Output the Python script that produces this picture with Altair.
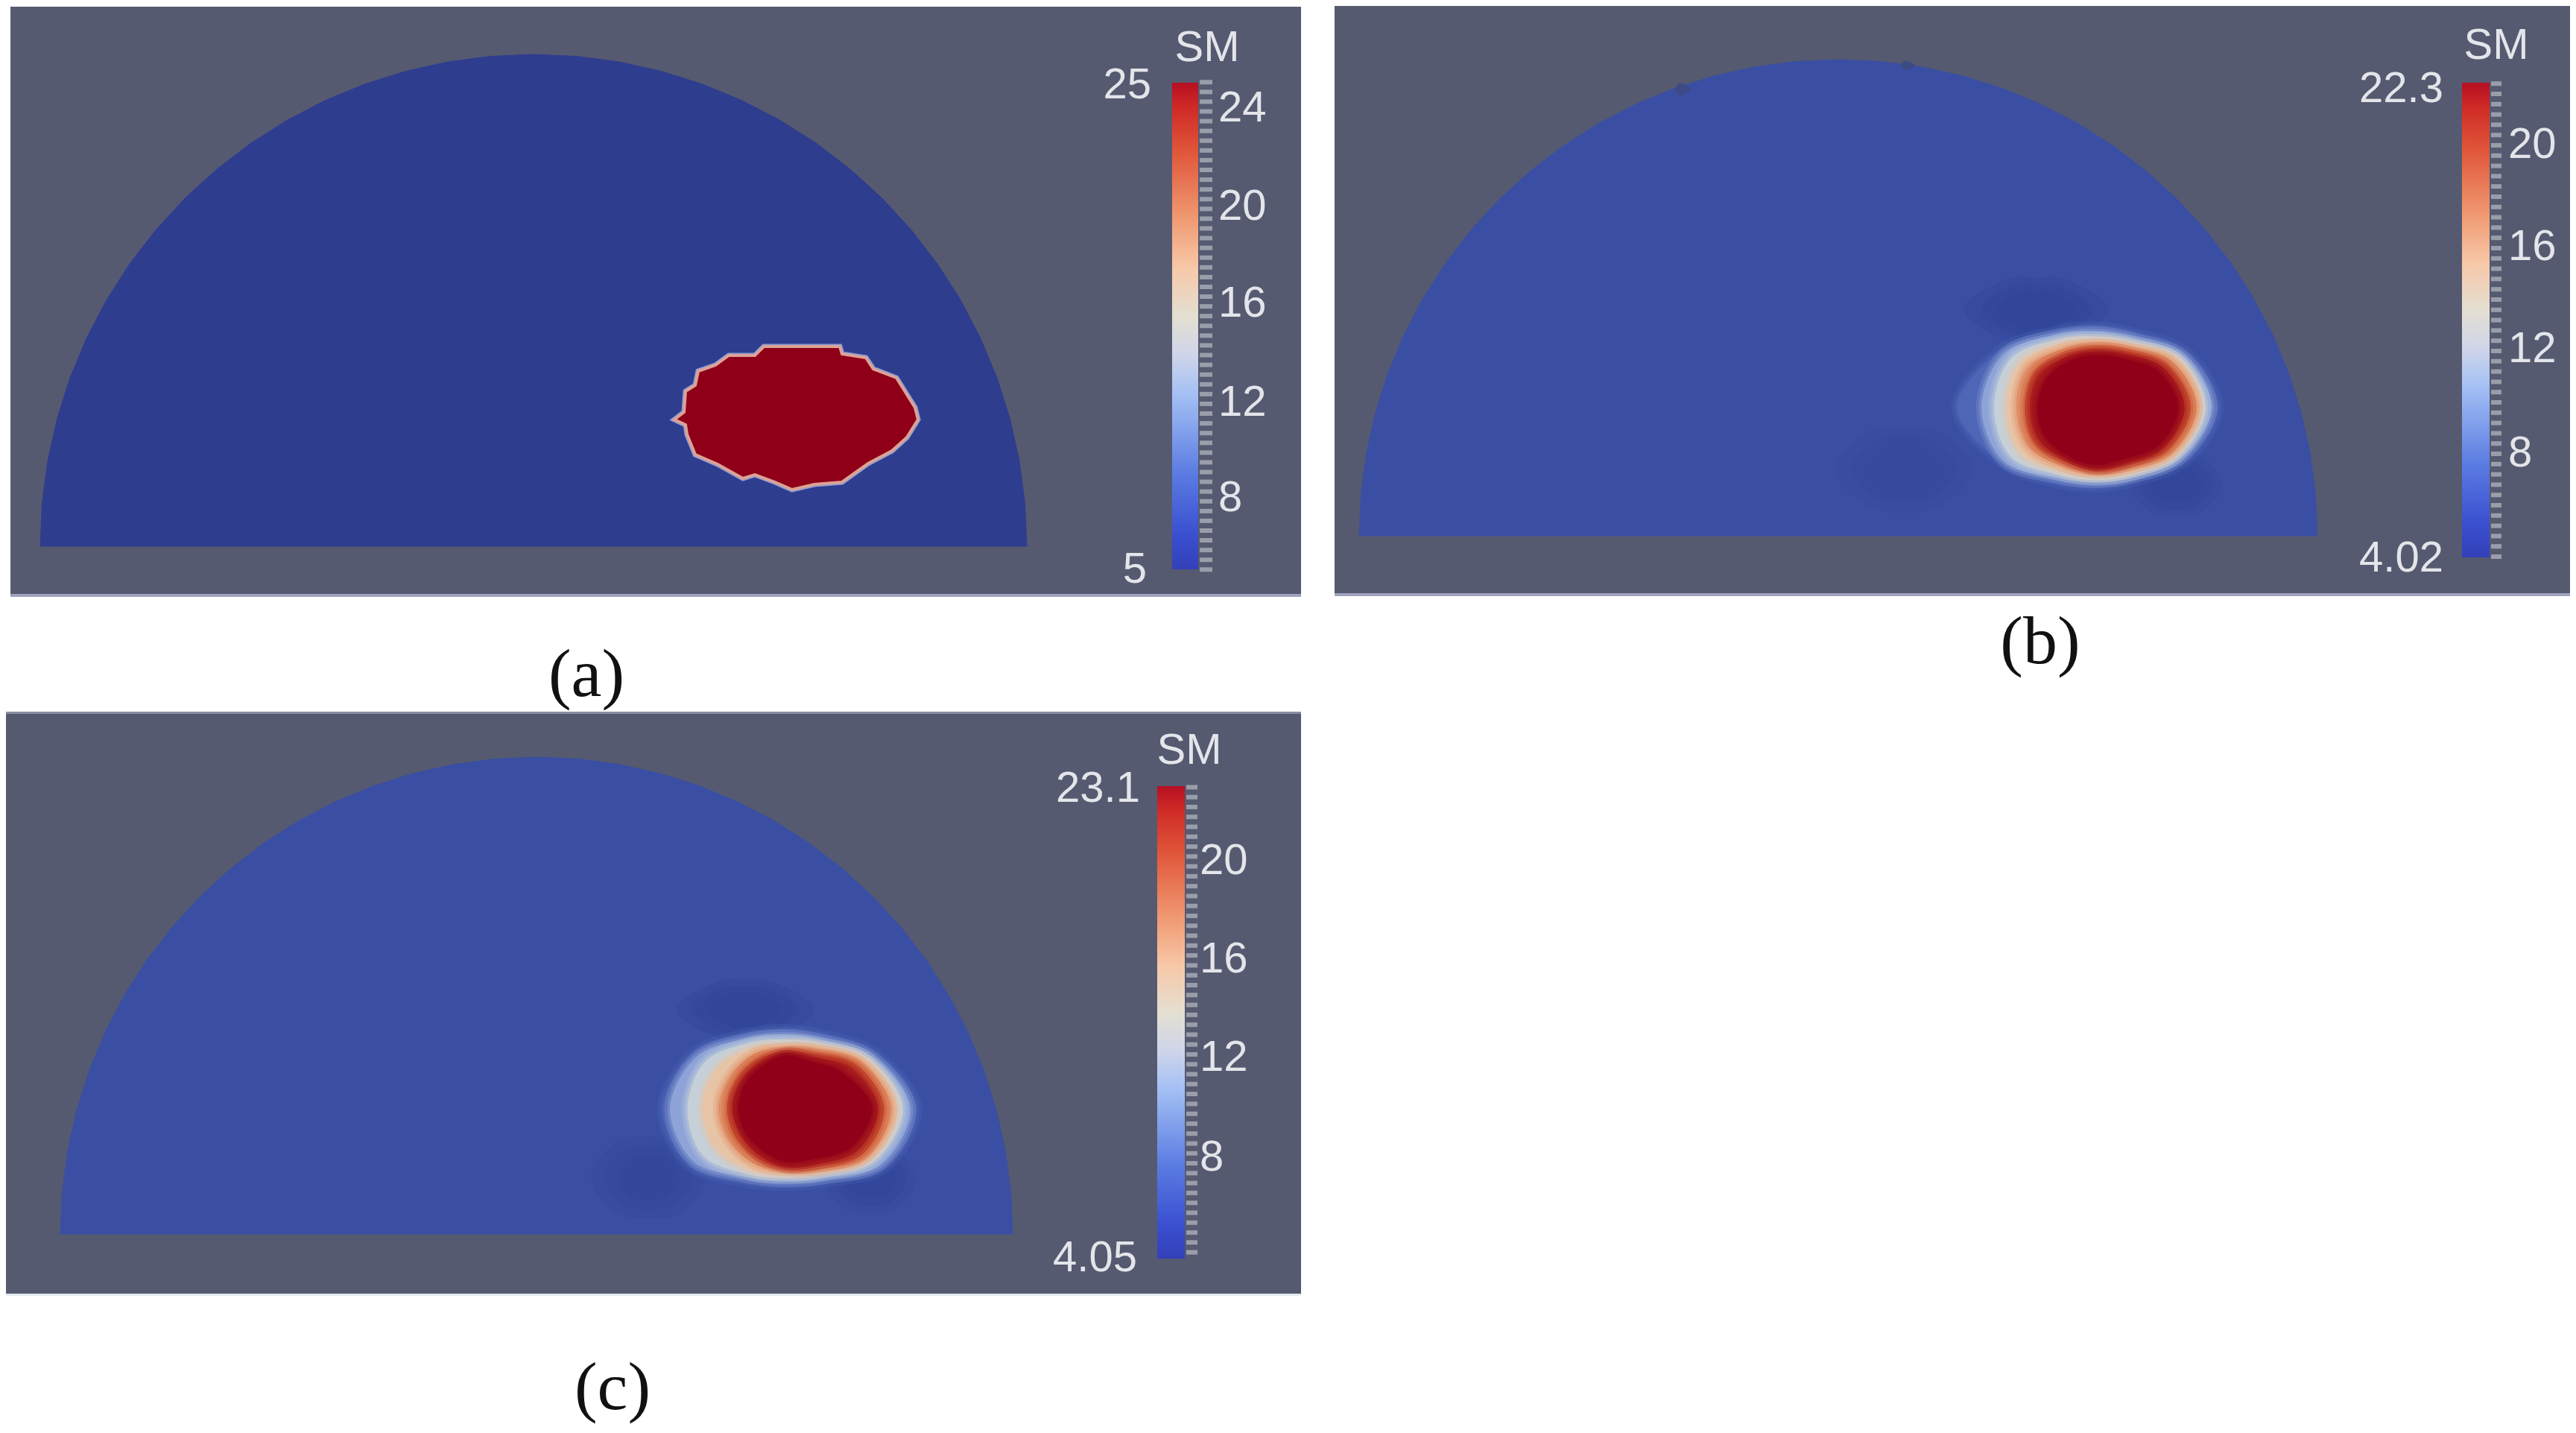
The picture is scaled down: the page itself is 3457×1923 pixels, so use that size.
import math
import altair as alt
import pandas as pd

# ---- canvas, in the reference's own pixel units
XDOM = [8, 3449]
YDOM = [1915, 8]
W, H = XDOM[1] - XDOM[0], YDOM[0] - YDOM[1]
xs = alt.Scale(domain=XDOM, nice=False, zero=False)
ys = alt.Scale(domain=YDOM, nice=False, zero=False)
X = alt.X("x:Q", scale=xs, axis=None)
Y = alt.Y("y:Q", scale=ys, axis=None)
X2 = alt.X2("x2:Q")
Y2 = alt.Y2("y2:Q")

# ---- background panels and edge strips
rect_x = [14, 14, 1791, 1791, 8, 8, 8]
rect_x2 = [1746, 1746, 3449, 3449, 1746, 1746, 1746]
rect_y = [9, 797, 8, 796, 958, 955, 1736]
rect_y2 = [797, 801, 796, 800, 1736, 958, 1739]
rect_col = ["#565a70", "#9ea2bf", "#565a70", "#9ea2bf", "#565a70", "#8a8ea2", "#e6ebf0"]

# ---- half-disc domains
dome_x = [716, 2467, 720]
dome_y = [733, 719, 1656]
dome_rx = [662, 643, 639]
dome_ry = [660, 639, 640]
dome_col = ["#2f3d8f", "#3a4fa3", "#3a4fa3"]
dome_angles = list(range(180, 361, 5))

# ---- sharp blob of panel (a)
blob_a_x = [905, 918, 920, 933, 937, 960, 978, 1013, 1025, 1127, 1130, 1162, 1172, 1203, 1228, 1232,
            1217, 1197, 1165, 1130, 1093, 1063, 1040, 1013, 997, 963, 933, 922, 920]
blob_a_y = [563, 553, 525, 517, 498, 490, 477, 477, 465, 465, 475, 480, 495, 507, 547, 563,
            587, 605, 622, 647, 650, 657, 647, 637, 642, 623, 610, 583, 570]

# ---- contour bands of (b) and (c): radius (at 0,30,...,330 degrees) of each level
level_col = ["#4f66b6", "#8ea4d8", "#c6d0d8", "#e8c4a6", "#e08e66", "#c9512f", "#a81c1e", "#900018"]
b_center = (2813, 547)
b_r = [
    [490, 420, 335, 320, 345, 440, 560, 450, 350, 325, 340, 430],
    [465, 400, 320, 300, 325, 430, 460, 430, 335, 305, 320, 410],
    [440, 385, 310, 290, 310, 395, 410, 395, 315, 285, 305, 395],
    [420, 370, 295, 275, 290, 355, 360, 355, 295, 270, 290, 380],
    [405, 355, 280, 260, 270, 315, 320, 320, 270, 255, 275, 360],
    [380, 335, 265, 250, 250, 285, 285, 285, 250, 240, 260, 335],
    [355, 315, 255, 245, 240, 265, 265, 265, 235, 225, 245, 315],
    [330, 295, 235, 230, 225, 235, 235, 230, 215, 210, 225, 290],
]
c_center = (1053, 1487)
c_r = [
    [530, 470, 340, 310, 340, 450, 490, 430, 340, 315, 335, 430],
    [505, 450, 325, 295, 320, 425, 460, 410, 320, 295, 315, 410],
    [475, 420, 310, 280, 305, 380, 390, 370, 300, 275, 300, 395],
    [450, 400, 295, 265, 285, 320, 330, 315, 275, 255, 285, 380],
    [430, 385, 285, 250, 255, 260, 265, 255, 250, 240, 270, 360],
    [400, 365, 270, 240, 230, 230, 230, 225, 225, 225, 250, 340],
    [375, 340, 260, 235, 215, 205, 210, 205, 205, 220, 235, 315],
    [350, 310, 235, 215, 190, 185, 185, 185, 190, 210, 215, 275],
]

# ---- soft dark patches next to the blobs: centre, radius at 0,45,...,315 degrees
patch_col = "#2c3f94"
patch_cx = [2733, 2555, 2920, 1000, 870, 1168]
patch_cy = [416, 630, 650, 1355, 1580, 1582]
patch_r = [
    [90, 50, 36, 50, 90, 50, 36, 50],
    [85, 62, 50, 62, 85, 62, 50, 62],
    [55, 44, 35, 44, 55, 44, 35, 44],
    [85, 45, 32, 45, 85, 45, 32, 45],
    [70, 58, 48, 58, 70, 58, 48, 58],
    [55, 46, 38, 46, 55, 46, 38, 46],
]
patch_op = [0.22, 0.09, 0.18, 0.22, 0.14, 0.18]
patch_scale = [1.0, 0.75, 0.5]

# ---- small dark nicks on the rim of (b)
nick_x = [2255, 2557]
nick_y = [120, 88]
nick_r = [[14, 8, 6, 8], [12, 6, 5, 6]]

# ---- colour bars
bar_x = [1573, 3304, 1553]
bar_x2 = [1608, 3341, 1590]
bar_y = [111, 111, 1055]
bar_y2 = [764, 748, 1689]
bar_stops = [
    (0.00, "#b50f22"), (0.05, "#cf2a26"), (0.14, "#e0553a"), (0.28, "#f09a72"), (0.38, "#f7c8a8"),
    (0.48, "#e4dfd2"), (0.56, "#cfd5ea"), (0.64, "#a4c0f4"), (0.80, "#5c7de2"), (0.93, "#3a4fd0"), (1.00, "#3340b8"),
]
tick_x = [1610, 3343, 1592]
tick_x2 = [1627, 3357, 1607]
tick_map = [(24, 143, 32.7), (20, 195, 34.5), (20, 1156, 33.2)]
tick_lo = [5.0, 4.0, 4.2]
tick_hi = [25.0, 22.4, 23.0]
tick_step = 0.4

# ---- text
text_left = [("24", 1635, 146), ("20", 1635, 278), ("16", 1635, 408), ("12", 1635, 541), ("8", 1635, 669),
             ("20", 3366, 195), ("16", 3366, 332), ("12", 3366, 469), ("8", 3366, 609),
             ("20", 1610, 1156), ("16", 1610, 1288), ("12", 1610, 1420), ("8", 1610, 1554)]
text_right = [("25", 1545, 115), ("5", 1539, 765), ("22.3", 3279, 120), ("4.02", 3279, 750),
              ("23.1", 1530, 1059), ("4.05", 1526, 1689)]
text_mid = [("SM", 1620, 65), ("SM", 3350, 62), ("SM", 1596, 1008)]
captions = [("(a)", 787, 906), ("(b)", 2738, 862), ("(c)", 822, 1863)]


def polygon(cx, cy, radii):
    step = 2 * math.pi / len(radii)
    return pd.DataFrame({
        "i": range(len(radii)),
        "x": [cx + r * math.cos(k * step) for k, r in enumerate(radii)],
        "y": [cy + r * math.sin(k * step) for k, r in enumerate(radii)],
    })


def half_disc(cx, cy, rx, ry):
    return pd.DataFrame({
        "i": range(len(dome_angles)),
        "x": [cx + rx * math.cos(math.radians(a)) for a in dome_angles],
        "y": [cy + ry * math.sin(math.radians(a)) for a in dome_angles],
    })


def shape(df, color, interp="cardinal-closed", **kw):
    opts = dict(fill=color, stroke=color, strokeWidth=1, interpolate=interp, clip=False)
    opts.update(kw)
    return alt.Chart(df).mark_line(**opts).encode(x=X, y=Y, order=alt.Order("i:Q"))


def halo(df, color, width, opacity):
    return alt.Chart(df).mark_line(stroke=color, strokeWidth=width, strokeOpacity=opacity,
                                   interpolate="cardinal-closed", clip=False).encode(
        x=X, y=Y, order=alt.Order("i:Q"))


layers = []

layers.append(alt.Chart(pd.DataFrame({"x": rect_x, "x2": rect_x2, "y": rect_y, "y2": rect_y2, "c": rect_col}))
              .mark_rect().encode(x=X, x2=X2, y=Y, y2=Y2, fill=alt.Fill("c:N", scale=None)))

for cx, cy, rx, ry, col in zip(dome_x, dome_y, dome_rx, dome_ry, dome_col):
    layers.append(shape(half_disc(cx, cy, rx, ry), col, interp="linear-closed"))

for cx, cy, radii in zip(nick_x, nick_y, nick_r):
    layers.append(shape(polygon(cx, cy, radii), "#3d4a86"))

for cx, cy, radii, op in zip(patch_cx, patch_cy, patch_r, patch_op):
    for f in patch_scale:
        df = polygon(cx, cy, [r * f for r in radii])
        layers.append(shape(df, patch_col, strokeWidth=14, opacity=op))

for center, table in ((b_center, b_r), (c_center, c_r)):
    for radii, col in zip(table, level_col):
        df = polygon(center[0], center[1], [r / 3 for r in radii])
        layers.append(halo(df, col, 16, 0.25))
        layers.append(halo(df, col, 8, 0.4))
        layers.append(shape(df, col))

blob_a = pd.DataFrame({"i": range(len(blob_a_x)), "x": blob_a_x, "y": blob_a_y})
layers.append(shape(blob_a, "#8c9bd4", interp="linear-closed", strokeWidth=7))
layers.append(shape(blob_a, "#8f0018", interp="linear-closed", stroke="#dca296", strokeWidth=4))

gradient = alt.Gradient(gradient="linear", x1=0, y1=0, x2=0, y2=1,
                        stops=[alt.GradientStop(offset=o, color=c) for o, c in bar_stops])
layers.append(alt.Chart(pd.DataFrame({"x": bar_x, "x2": bar_x2, "y": bar_y, "y2": bar_y2}))
              .mark_rect(fill=gradient).encode(x=X, x2=X2, y=Y, y2=Y2))

tick_rows = []
for x0, x1, (v0, y0, k), lo, hi in zip(tick_x, tick_x2, tick_map, tick_lo, tick_hi):
    n = int(round((hi - lo) / tick_step))
    for j in range(n + 1):
        v = lo + j * tick_step
        tick_rows.append({"x": x0, "x2": x1, "y": y0 + (v0 - v) * k})
layers.append(alt.Chart(pd.DataFrame(tick_rows))
              .mark_rule(color="#9a9daa", strokeWidth=6).encode(x=X, x2=X2, y=Y))


def text_layer(rows, align, font, size, color):
    df = pd.DataFrame(rows, columns=["t", "x", "y"])
    return alt.Chart(df).mark_text(align=align, baseline="middle", font=font, fontSize=size, color=color).encode(
        x=X, y=Y, text="t:N")


layers.append(text_layer(text_left, "left", "Liberation Sans", 58, "#e4e5ea"))
layers.append(text_layer(text_right, "right", "Liberation Sans", 58, "#e4e5ea"))
layers.append(text_layer(text_mid, "center", "Liberation Sans", 58, "#e4e5ea"))
layers.append(text_layer(captions, "center", "Liberation Serif", 92, "#111111"))

chart = alt.layer(*layers).properties(width=W, height=H, padding=0, background="white").configure_view(strokeWidth=0)
chart.save("out.html", embed_options={"renderer": "svg", "actions": False})
